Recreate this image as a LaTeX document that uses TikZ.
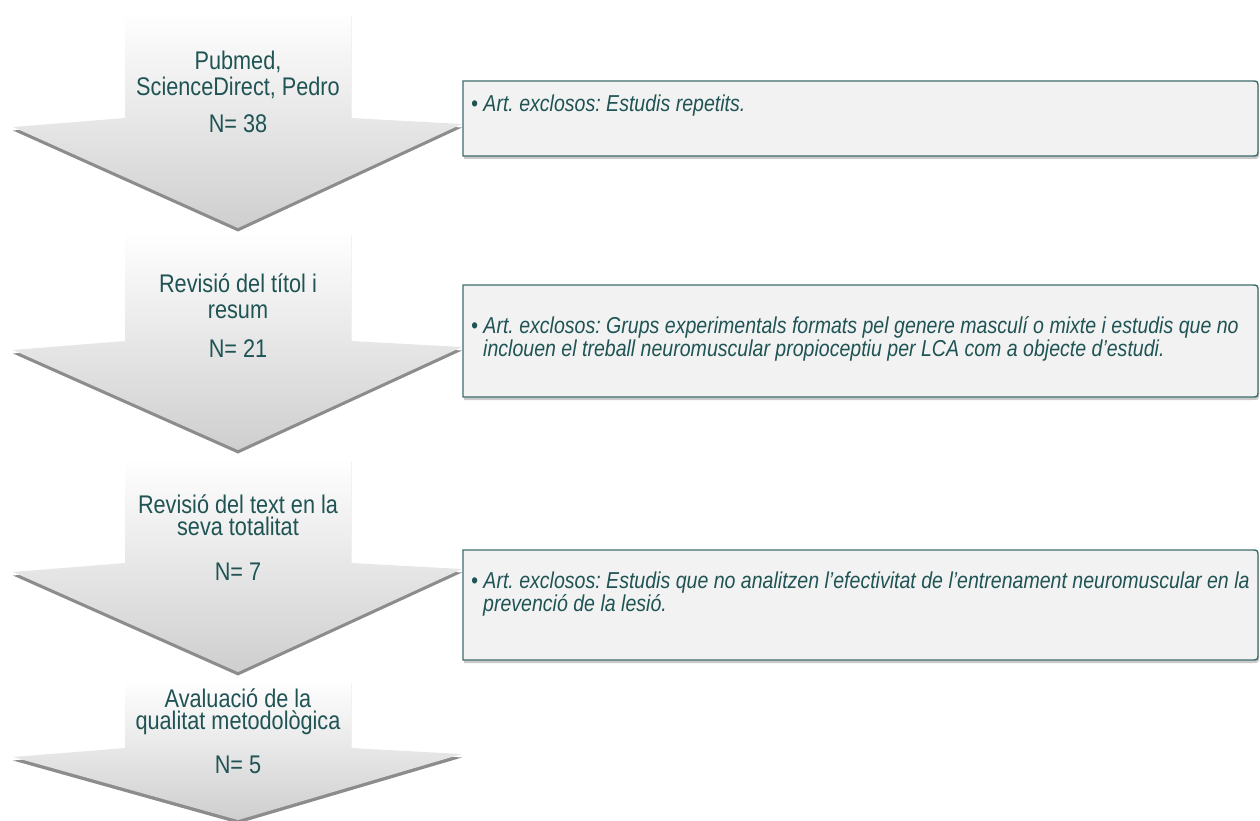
\documentclass[tikz,border=0pt]{standalone}
\usepackage{fontspec}
\setmainfont{Liberation Sans}[FakeStretch=0.85]
\usetikzlibrary{shadows}
\definecolor{tealtext}{HTML}{1F5354}
\definecolor{tealline}{HTML}{3E6D6D}
\definecolor{boxfill}{HTML}{F2F2F2}
\frenchspacing
\tikzset{
  stage/.style={top color=white, middle color=black!9, bottom color=black!19,
    drop shadow={shadow xshift=0pt, shadow yshift=-3.5pt, opacity=.6, fill=black!75}},
  exbox/.style={draw=tealline, line width=1.4pt, fill=boxfill,
    drop shadow={shadow xshift=1pt, shadow yshift=-3pt, opacity=.35, fill=black!60}},
  stagetext/.style={anchor=base, inner sep=0pt, align=center, text=tealtext,
    font=\fontsize{25.5}{#1}\selectfont},
  stagetext/.default=26,
  extext/.style={anchor=base west, inner sep=0pt, align=left, text=tealtext,
    font=\fontsize{23}{20}\selectfont\itshape}
}
\begin{document}
\begin{tikzpicture}[x=1pt,y=-1pt]
  \useasboundingbox (0,0) rectangle (1260,821);
  % arrows of the selection
  \foreach \top/\head/\tip in {12/118/228, 232/341/450, 458/563/672, 680/748/820}{%
    \path[stage] (125,\top) -- (351,\top) -- (351,\head) -- (462,\head+6)
      -- (238,\tip) -- (13,\head+9) -- (125,\head) -- cycle;
  }%
  % boxes with the excluded articles
  \foreach \t/\b in {81/156, 285/397, 550/660}{%
    \path[exbox] (463,\t) -- (1251,\t) .. controls (1258,\t) .. (1258,\t+7)
      -- (1258,\b-7) .. controls (1258,\b) .. (1251,\b) -- (463,\b) -- cycle;
  }%
  % stage labels (base = last line)
  \node[stagetext] (src) at (238,96) {Pubmed,\\ScienceDirect, Pedro};
  \node[stagetext] (srcN) at (238,133) {N= 38};
  \node[stagetext] (tit) at (238,318) {Revisió del títol i\\resum};
  \node[stagetext] (titN) at (238,357) {N= 21};
  \node[stagetext=22] (txt) at (238,535) {Revisió del text en la\\seva totalitat};
  \node[stagetext] (txtN) at (238,580) {N= 7};
  \node[stagetext=22] (qual) at (238,729) {Avaluació de la\\qualitat metodològica};
  \node[stagetext] (qualN) at (238,773) {N= 5};
  % exclusion texts
  \node[extext] (exA) at (471,112) {• Art. exclosos: Estudis repetits.};
  \node[extext] (exB) at (471,356) {• Art. exclosos: Grups experimentals formats pel genere masculí o mixte i estudis que no\\
    \hspace*{12pt}inclouen el treball neuromuscular propioceptiu per LCA com a objecte d’estudi.};
  \node[extext] (exC) at (471,611) {• Art. exclosos: Estudis que no analitzen l’efectivitat de l’entrenament neuromuscular en la\\
    \hspace*{12pt}prevenció de la lesió.};
\end{tikzpicture}
\end{document}
